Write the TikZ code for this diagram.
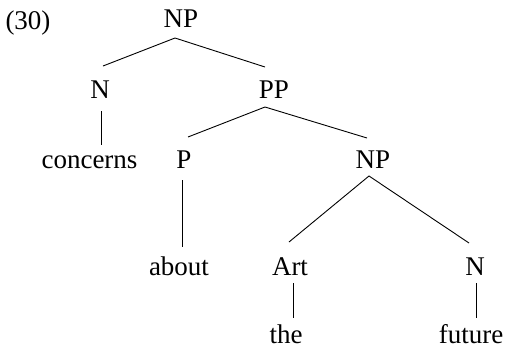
\documentclass[tikz,border=0pt]{standalone}
\usepackage{fontspec}
\setmainfont{Liberation Serif}
\begin{document}
\begin{tikzpicture}[x=1pt,y=-1pt,
  lbl/.style={anchor=base,inner sep=0pt,font=\fontsize{27}{32}\selectfont},
  edge/.style={draw=black,line width=0.9pt}]
\useasboundingbox (0,0) rectangle (506,349);
\node[lbl] (ex) at (28,29) {(30)};
\node[lbl] (np0) at (181,27) {NP};
\node[lbl] (n1) at (100,98) {N};
\node[lbl] (pp) at (274,98) {PP};
\node[lbl] (conc) at (89.5,168) {concerns};
\node[lbl] (p) at (184,168) {P};
\node[lbl] (np2) at (373,168) {NP};
\node[lbl] (about) at (179,275) {about};
\node[lbl] (art) at (290,275) {Art};
\node[lbl] (n3) at (475,275) {N};
\node[lbl] (the) at (286,343) {the};
\node[lbl] (fut) at (471,343) {future};
\draw[edge] ([shift={(3,-32)}]n1.base) -- ([shift={(-6,11)}]np0.base) -- ([shift={(-9,-31)}]pp.base);
\draw[edge] ([shift={(1,13)}]n1.base) -- ([shift={(11.5,-23)}]conc.base);
\draw[edge] ([shift={(4,-31)}]p.base) -- ([shift={(-9,9)}]pp.base) -- ([shift={(-6,-30)}]np2.base);
\draw[edge] ([shift={(-2,12)}]p.base) -- ([shift={(3,-28)}]about.base);
\draw[edge] ([shift={(-1,-33)}]art.base) -- ([shift={(-4,8)}]np2.base) -- ([shift={(-6,-32)}]n3.base);
\draw[edge] ([shift={(3,8)}]art.base) -- ([shift={(7,-25)}]the.base);
\draw[edge] ([shift={(1,8)}]n3.base) -- ([shift={(5,-25)}]fut.base);
\end{tikzpicture}
\end{document}
